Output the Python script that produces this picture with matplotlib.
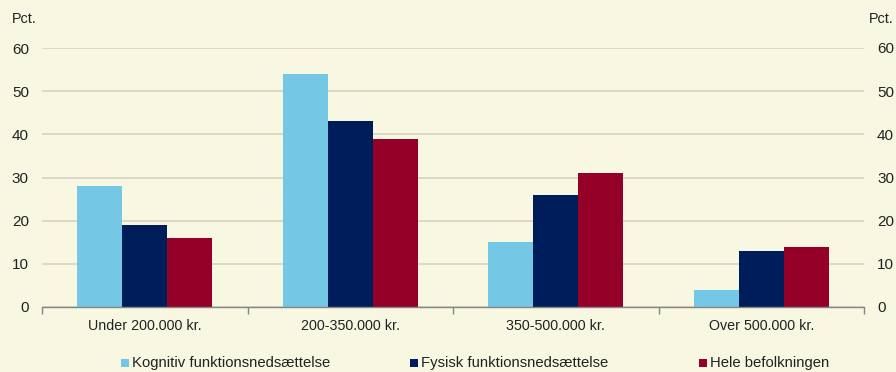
import matplotlib
matplotlib.use("Agg")
import matplotlib.pyplot as plt
import numpy as np
from matplotlib.patches import Rectangle

categories = ["Under 200.000 kr.", "200-350.000 kr.", "350-500.000 kr.", "Over 500.000 kr."]
series_names = ["Kognitiv funktionsnedsættelse", "Fysisk funktionsnedsættelse", "Hele befolkningen"]
kognitiv = [28, 54, 15, 4]
fysisk = [19, 43, 26, 13]
hele = [16, 39, 31, 14]
yticks = [0, 10, 20, 30, 40, 50, 60]

colors = ["#74C8E6", "#001D5B", "#950029"]
bg = "#F8F7E1"
tc = '#222222'

plt.rcParams['font.family'] = ['Liberation Sans', 'DejaVu Sans']

W, H = 896, 372
fig = plt.figure(figsize=(W/100, H/100), dpi=100, facecolor=bg)
ax = fig.add_axes([42/W, 1-307/H, (864-42)/W, (307-48)/H], facecolor=bg)

x = np.arange(len(categories))
w = 0.219
for i, (vals, c) in enumerate(zip([kognitiv, fysisk, hele], colors)):
    ax.bar(x + (i-1)*w, vals, width=w, color=c, zorder=3, linewidth=0)

ax.set_xlim(-0.5, 3.5)
ax.set_ylim(0, 60)
ax.set_yticks(yticks)
ax.grid(axis='y', color='#D8D6C4', linewidth=1.3, zorder=0)
ax.set_axisbelow(True)
for s in ['top', 'right', 'left']:
    ax.spines[s].set_visible(False)
ax.spines['bottom'].set_color('#858585')
ax.spines['bottom'].set_linewidth(1.0)
ax.spines['bottom'].set_zorder(4)

ax.set_xticks(x)
ax.set_xticklabels(categories, fontsize=10.3, color=tc)
ax.set_xticks(np.arange(-0.5, 4.0, 1.0), minor=True)
ax.tick_params(axis='x', which='major', length=0, pad=9)
ax.tick_params(axis='x', which='minor', length=5, color='#858585', width=1)
ax.tick_params(axis='y', length=0, pad=9.4, labelsize=11, labelcolor=tc)

ax2 = ax.twinx()
ax2.set_ylim(0, 60)
ax2.set_yticks(yticks)
for s in ax2.spines.values():
    s.set_visible(False)
ax2.tick_params(axis='y', length=0, pad=9.4, labelsize=11, labelcolor=tc)

fig.text(12/W, 1-19/H, "Pct.", fontsize=10.4, color=tc, va='center', ha='left')
fig.text(894/W, 1-19/H, "Pct.", fontsize=10.4, color=tc, va='center', ha='right')

# legend, Excel-style equal slots
leg_x = [121, 410, 699]
leg_y = 363
sq = 8
for xs, c, name in zip(leg_x, colors, series_names):
    fig.patches.append(Rectangle((xs/W, (H-leg_y-sq/2)/H), sq/W, sq/H,
                                 transform=fig.transFigure, facecolor=c,
                                 edgecolor='none', figure=fig))
    fig.text((xs+sq+3)/W, 1-leg_y/H, name, fontsize=10.7, color=tc,
             va='center', ha='left')

fig.savefig("out.png", dpi=100, facecolor=bg)
